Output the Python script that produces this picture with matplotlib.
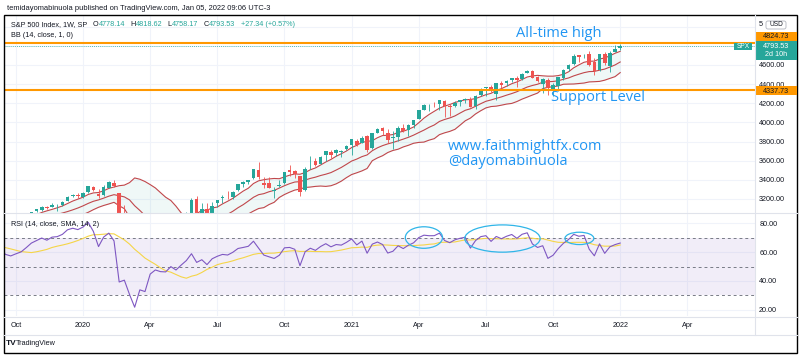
import numpy as np
import pandas as pd
import matplotlib
matplotlib.use('Agg')
import matplotlib.pyplot as plt
from matplotlib.patches import Rectangle, Ellipse, FancyBboxPatch

plt.rcParams['font.family'] = ['Liberation Sans', 'DejaVu Sans']

W, H = 800, 355

# weekly closes before the visible window, only used to warm up BB / RSI
warmup_close = [2486, 2532, 2596, 2671, 2665, 2707, 2708, 2776, 2793, 2804,
                2743, 2822, 2801, 2834, 2893, 2907, 2905, 2940, 2946, 2881,
                2860, 2826, 2752, 2873, 2887, 2950, 2942, 2990, 3014, 2977,
                3026, 2932, 2919, 2889, 2847, 2926, 2979, 3007]

# S&P 500 weekly bars, week of 2019-09-16 .. week of 2022-01-03
first_week = '2019-09-16'
open_ = [3005, 2994, 2967, 2944, 2965, 2996, 3035, 3078, 3081, 3118,
         3117, 3144, 3141, 3183, 3226, 3241, 3218, 3271, 3321, 3247,
         3236, 3318, 3370, 3258, 2975, 2864, 2509, 2291, 2499, 2578,
         2782, 2846, 2855, 2815, 2915, 2913, 3004, 3038, 3199, 2999,
         3094, 3019, 3155, 3206, 3224, 3219, 3289, 3356, 3380, 3418,
         3507, 3370, 3364, 3285, 3335, 3367, 3500, 3493, 3441, 3296,
         3583, 3601, 3566, 3654, 3694, 3675, 3694, 3724, 3764, 3803,
         3781, 3856, 3732, 3892, 3939, 3886, 3842, 3844, 3942, 3916,
         3969, 4034, 4134, 4179, 4185, 4192, 4228, 4169, 4168, 4216,
         4229, 4248, 4174, 4284, 4356, 4373, 4296, 4409, 4407, 4438,
         4461, 4450, 4514, 4535, 4474, 4402, 4442, 4348, 4385, 4463,
         4553, 4610, 4707, 4689, 4712, 4628, 4548, 4710, 4588, 4733,
         4778.14]
high = [3022, 3002, 2983, 2993, 3000, 3027, 3067, 3098, 3121, 3128,
        3154, 3150, 3183, 3226, 3248, 3258, 3268, 3330, 3338, 3306,
        3342, 3385, 3394, 3260, 3137, 2883, 2562, 2637, 2641, 2819,
        2880, 2867, 2965, 2934, 2945, 2981, 3068, 3211, 3233, 3155,
        3155, 3166, 3186, 3238, 3280, 3280, 3352, 3387, 3399, 3509,
        3588, 3425, 3428, 3320, 3397, 3485, 3550, 3502, 3441, 3530,
        3646, 3628, 3645, 3702, 3712, 3726, 3711, 3760, 3826, 3823,
        3860, 3871, 3889, 3937, 3951, 3929, 3914, 3960, 3983, 3978,
        4020, 4129, 4191, 4195, 4218, 4238, 4236, 4188, 4220, 4234,
        4255, 4262, 4287, 4356, 4372, 4394, 4415, 4430, 4441, 4468,
        4480, 4513, 4546, 4549, 4487, 4465, 4466, 4412, 4475, 4560,
        4608, 4718, 4708, 4718, 4743, 4672, 4713, 4732, 4741, 4808,
        4818.62]
low = [2979, 2946, 2856, 2874, 2952, 2985, 3023, 3066, 3074, 3091,
       3115, 3070, 3124, 3183, 3223, 3213, 3213, 3264, 3280, 3214,
       3234, 3316, 3328, 2856, 2902, 2478, 2280, 2192, 2447, 2577,
       2761, 2727, 2815, 2798, 2766, 2910, 2997, 3031, 2984, 2966,
       3004, 3000, 3115, 3153, 3202, 3200, 3284, 3324, 3356, 3405,
       3405, 3310, 3313, 3209, 3325, 3354, 3441, 3419, 3234, 3280,
       3512, 3543, 3563, 3595, 3633, 3648, 3636, 3715, 3663, 3749,
       3780, 3694, 3726, 3885, 3865, 3789, 3723, 3805, 3895, 3854,
       3937, 4034, 4125, 4119, 4164, 4128, 4057, 4062, 4160, 4168,
       4199, 4165, 4144, 4274, 4280, 4321, 4233, 4360, 4381, 4417,
       4367, 4444, 4513, 4459, 4427, 4305, 4288, 4278, 4329, 4448,
       4537, 4596, 4630, 4672, 4585, 4495, 4533, 4600, 4531, 4733,
       4758.17]
close = [2992, 2962, 2952, 2970, 2986, 3023, 3067, 3093, 3120, 3110,
         3141, 3146, 3169, 3221, 3240, 3235, 3265, 3330, 3295, 3226,
         3328, 3380, 3338, 2954, 2972, 2711, 2305, 2541, 2489, 2790,
         2875, 2837, 2831, 2930, 2864, 2955, 3044, 3194, 3041, 3098,
         3009, 3130, 3185, 3225, 3216, 3271, 3351, 3373, 3397, 3508,
         3427, 3341, 3319, 3298, 3348, 3477, 3484, 3465, 3270, 3510,
         3585, 3558, 3638, 3699, 3663, 3709, 3703, 3756, 3825, 3768,
         3841, 3714, 3887, 3934, 3907, 3811, 3842, 3943, 3913, 3975,
         4020, 4129, 4185, 4180, 4181, 4233, 4174, 4156, 4204, 4230,
         4247, 4166, 4281, 4352, 4370, 4327, 4412, 4395, 4437, 4468,
         4442, 4509, 4535, 4459, 4433, 4455, 4357, 4391, 4471, 4545,
         4605, 4697, 4683, 4698, 4595, 4538, 4712, 4620, 4726, 4766,
         4793.53]

price_ticks = [3200, 3400, 3600, 3800, 4000, 4200, 4400, 4600, 4800, 5000]
hidden_ticks = [4800, 5000]   # covered by the price labels / USD button
rsi_ticks = [20, 40, 60, 80]
rsi_levels = [70, 50, 30]
ath_level = 4824.73
support_level = 4337.73

# drawn annotations: (bar index, price) for text, (bar, rsi, w, h) for rings
notes = [('All-time high', 99.9, 4934), ('Support Level', 106.6, 4255),
         ('www.faithmightfx.com', 86.7, 3753), ('@dayomabinuola', 86.7, 3596)]
rings = [(82.0, 70.2, 7.2, 15.0), (97.2, 69.5, 14.6, 19.0), (112.1, 69.6, 5.6, 8.6)]

UP, DOWN = '#26a69a', '#ef5350'
TXT = '#131722'
GRID = '#f0f3fa'
FS = 5.2


def rect(x0, y0, x1, y1):
    return [x0 / W, 1 - y1 / H, (x1 - x0) / W, (y1 - y0) / H]


# --- indicators ---
all_close = pd.Series(warmup_close + close, dtype=float)
n = len(close)
basis = all_close.rolling(14).mean()
dev = all_close.rolling(14).std(ddof=0)
bb_mid = basis.values[-n:]
bb_up = (basis + dev).values[-n:]
bb_lo = (basis - dev).values[-n:]

delta = all_close.diff().values[1:]
gain = np.clip(delta, 0, None)
loss = np.clip(-delta, 0, None)
ag = np.full(len(delta), np.nan)
al = np.full(len(delta), np.nan)
ag[13] = gain[:14].mean()
al[13] = loss[:14].mean()
for k in range(14, len(delta)):
    ag[k] = (ag[k - 1] * 13 + gain[k]) / 14
    al[k] = (al[k - 1] * 13 + loss[k]) / 14
rsi_all = pd.Series(100 - 100 / (1 + ag / al))
rsi = rsi_all.values[-n:]
rsi_ma = rsi_all.rolling(14).mean().values[-n:]

xlim = (0.7, 146.1)
dates = pd.date_range(first_week, periods=150, freq='W-MON')
lab_idx, lab_txt = [], []
for k in range(1, len(dates)):
    d = dates[k]
    if k < xlim[1] - 4 and d.month != dates[k - 1].month and d.month in (1, 4, 7, 10):
        lab_idx.append(k)
        lab_txt.append(str(d.year) if d.month == 1 else d.strftime('%b'))

idx = np.arange(n)
o, h, l, c = map(np.array, (open_, high, low, close))
col = np.where(c >= o, UP, DOWN)

fig = plt.figure(figsize=(W / 100, H / 100), dpi=100)
fig.patch.set_facecolor('white')

ax = fig.add_axes(rect(4, 16, 755, 213))
rx = fig.add_axes(rect(4, 213, 755, 316))
ov = fig.add_axes([0, 0, 1, 1])
ov.set_xlim(0, W)
ov.set_ylim(H, 0)
ov.axis('off')

for a in (ax, rx):
    a.set_xlim(*xlim)
    for s in a.spines.values():
        s.set_visible(False)
    for k in lab_idx:
        a.axvline(k, color=GRID, lw=0.8, zorder=0)
ax.set_ylim(3053, 5112)
rx.set_ylim(15.5, 87.3)

# --- price panel ---
for p in price_ticks:
    ax.axhline(p, color=GRID, lw=0.8, zorder=0)
ax.fill_between(idx, bb_lo, bb_up, color=UP, alpha=0.07, lw=0)
for band in (bb_up, bb_mid, bb_lo):
    ax.plot(idx, band, color='#c0474b', lw=0.8, zorder=2)
ax.vlines(idx, l, h, color=col, lw=0.6, zorder=3)
body = np.maximum(np.abs(c - o), 3)
ax.bar(idx, body, bottom=np.minimum(o, c), width=0.7, color=col, lw=0, zorder=4)
ax.axhline(ath_level, color='#ff9800', lw=1.5, zorder=5)
ax.axhline(support_level, color='#ff9800', lw=1.5, zorder=5)
ax.axhline(close[-1], color=UP, lw=0.6, ls=(0, (1, 1.5)), zorder=5)
ax.set_xticks([])
ax.set_yticks(price_ticks)
ax.set_yticklabels(['' if p in hidden_ticks else f'{p:.2f}' for p in price_ticks])
ax.yaxis.set_ticks_position('right')
ax.tick_params(axis='y', length=0, pad=3, labelsize=FS, labelcolor=TXT)

for txt, xi, yp in notes:
    ax.text(xi, yp, txt, color='#2196f3', fontsize=10.5, family=['Open Sans', 'DejaVu Sans'],
            ha='left', va='center', zorder=6)

# --- RSI panel ---
for r in rsi_ticks:
    rx.axhline(r, color=GRID, lw=0.8, zorder=0)
rx.axhspan(30, 70, color='#7e57c2', alpha=0.1, lw=0)
for r in rsi_levels:
    rx.axhline(r, color='#787b86', lw=0.7, ls=(0, (3, 3)))
rx.plot(idx, rsi_ma, color='#f5d547', lw=0.8)
rx.plot(idx, rsi, color='#7e57c2', lw=0.8)
for cx, cy, ew, eh in rings:
    rx.add_patch(Ellipse((cx, cy), ew, eh, fill=False, ec='#2fb5e8', lw=0.9, zorder=6))
rx.set_yticks(rsi_ticks)
rx.set_yticklabels([f'{r:.2f}' for r in rsi_ticks])
rx.yaxis.set_ticks_position('right')
rx.tick_params(axis='y', length=0, pad=3, labelsize=FS, labelcolor=TXT)
rx.set_xticks(lab_idx)
rx.set_xticklabels(lab_txt)
rx.tick_params(axis='x', length=0, pad=4.5, labelsize=FS, labelcolor=TXT)


def price_px(p):
    return ov.transData.inverted().transform(ax.transData.transform((0, p)))[1]


# --- frame and separators ---
ov.plot([4, 797], [213, 213], color='#e0e3eb', lw=0.8)
ov.plot([4, 797], [316.5, 316.5], color='#e0e3eb', lw=0.8)
ov.plot([4, 797], [335, 335], color='#e0e3eb', lw=0.8)
ov.plot([755, 755], [15, 335], color='#e0e3eb', lw=0.8)
ov.add_patch(Rectangle((4, 15), 793, 338, fill=False, ec='black', lw=1.0))

# --- texts ---
ov.text(7, 8, 'temidayomabinuola published on TradingView.com, Jan 05, 2022 09:06 UTC-3',
        fontsize=5.4, color=TXT, va='center')

# legend row laid out piece by piece
renderer = fig.canvas.get_renderer()
legend = [('S&P 500 Index, 1W, SP', TXT, 5), ('O', TXT, 0.6), ('4778.14', UP, 5),
          ('H', TXT, 0.6), ('4818.62', UP, 5), ('L', TXT, 0.6), ('4758.17', UP, 5),
          ('C', TXT, 0.6), ('4793.53', UP, 5), ('+27.34 (+0.57%)', UP, 0)]
x = 11
for s, cl, gap in legend:
    t = ov.text(x, 25, s, fontsize=FS, color=cl, va='center')
    bb = t.get_window_extent(renderer)
    x += bb.width * 100 / fig.dpi + gap
ov.text(11, 35.5, 'BB (14, close, 1, 0)', fontsize=FS, color=TXT, va='center')
ov.text(11, 224, 'RSI (14, close, SMA, 14, 2)', fontsize=FS, color=TXT, va='center')
ov.text(6, 343.5, 'TV', fontsize=6, fontweight='bold', color=TXT, va='center')
ov.text(16, 343.5, 'TradingView', fontsize=FS, color=TXT, va='center')

# price axis labels
ov.add_patch(FancyBboxPatch((766, 21), 20, 8, boxstyle='round,pad=0,rounding_size=2',
                            fc='white', ec='#b2b5be', lw=0.6))
ov.text(776, 25, 'USD', fontsize=FS - 0.5, color=TXT, ha='center', va='center')
ov.text(759, 25, '5', fontsize=FS, color=TXT, va='center')

ov.add_patch(Rectangle((755, 31.5), 42, 9.5, fc='#ff9800', ec='none'))
ov.text(776, 36.3, f'{ath_level:.2f}', fontsize=FS, color=TXT, ha='center', va='center')
ov.add_patch(Rectangle((755, 41), 42, 19, fc=UP, ec='none'))
ov.text(776, 46.5, f'{close[-1]:.2f}', fontsize=FS, color='white', ha='center', va='center')
ov.text(776, 55, '2d 10h', fontsize=FS, color='white', ha='center', va='center')
ys = price_px(close[-1])
ov.add_patch(Rectangle((734, ys - 3.8), 18, 7.6, fc=UP, ec='none'))
ov.text(743, ys, 'SPX', fontsize=FS - 0.4, color='white', ha='center', va='center')
ysup = price_px(support_level)
ov.add_patch(Rectangle((755, ysup - 3.6), 42, 9, fc='#ff9800', ec='none'))
ov.text(776, ysup + 1.1, f'{support_level:.2f}', fontsize=FS, color=TXT, ha='center', va='center')

fig.savefig('out.png', dpi=100, facecolor='white')
